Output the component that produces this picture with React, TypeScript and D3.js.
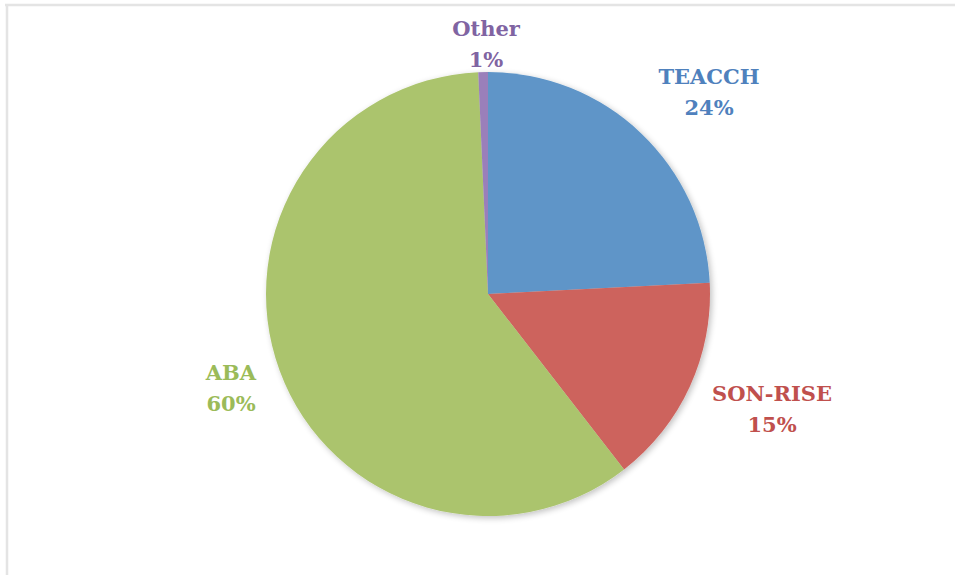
import React from "react";
import * as d3 from "d3";

const categories = ["TEACCH", "SON-RISE", "ABA", "Other"];
const values = [24.2, 15.3, 59.8, 0.7];
const pctLabels = ["24%", "15%", "60%", "1%"];
const sliceColors = ["#5e95c8", "#cd635d", "#abc46d", "#9a7fba"];
const textColors = ["#4f81bd", "#c0504d", "#9bbb59", "#8064a2"];
const labelPos = [
  [709, 77],
  [772, 394],
  [231, 373],
  [486, 29],
];

export default function App() {
  const W = 955, H = 575;
  const cx = 488, cy = 294, r = 222;
  const pie = d3.pie<number>().sort(null).value((d) => d)(values);
  const arc = d3.arc<d3.PieArcDatum<number>>().innerRadius(0).outerRadius(r);
  return (
    <svg width={W} height={H} style={{ position: "absolute", left: 0, top: 0, background: "#fff" }}>
      <defs>
        <filter id="sh" x="-20%" y="-20%" width="140%" height="140%">
          <feGaussianBlur in="SourceAlpha" stdDeviation="3" />
          <feOffset dx="2" dy="2" result="b" />
          <feComponentTransfer><feFuncA type="linear" slope="0.25" /></feComponentTransfer>
          <feMerge><feMergeNode /><feMergeNode in="SourceGraphic" /></feMerge>
        </filter>
      </defs>
      <line x1={5} y1={5} x2={W} y2={5} stroke="#e4e4e4" strokeWidth={2.5} />
      <line x1={7} y1={5} x2={7} y2={H} stroke="#e4e4e4" strokeWidth={2.5} />
      <g transform={`translate(${cx},${cy})`} filter="url(#sh)">
        {pie.map((p, i) => (
          <path key={categories[i]} d={arc(p) || ""} fill={sliceColors[i]} />
        ))}
      </g>
      {categories.map((c, i) => (
        <text key={c} x={labelPos[i][0]} y={labelPos[i][1]} textAnchor="middle"
          fontFamily="'DejaVu Serif', serif" fontWeight="bold" fontSize={21} fill={textColors[i]}>
          <tspan x={labelPos[i][0]} dy="0.35em">{c}</tspan>
          <tspan x={labelPos[i][0]} dy="31">{pctLabels[i]}</tspan>
        </text>
      ))}
    </svg>
  );
}
